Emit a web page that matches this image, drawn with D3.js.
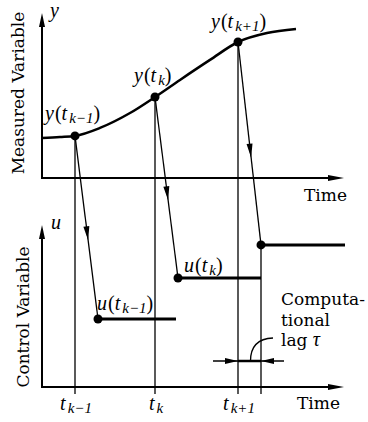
<!DOCTYPE html>
<meta charset="utf-8">
<style>
body { margin: 0; background: #fff; }
</style>
<body>
<script src="https://d3js.org/d3.v7.min.js"></script>
<script>

// sampling instants t_{k-1}, t_k, t_{k+1} (arbitrary time units) and computational lag
var sampleTimes = [3.3, 11.3, 19.6];
var sampleSubs = ["k\u22121", "k", "k+1"];
var lag = 2.3;

// measured variable y(t)
var curveT = [0, 1.8, 3.3, 5.8, 8.8, 11.3, 13.8, 16.8, 19.6, 22.5, 25.4];
var curveY = [2.5, 2.56, 2.63, 3.13, 4.06, 5.06, 6.13, 7.38, 8.5, 9.06, 9.31];
var ySamples = [2.63, 5.06, 8.5];

// control variable u, held from t_i + lag to holdEnd
var uValues = [4.25, 6.81, 8.88];
var holdEnd = [13.4, 21.9, 30.3];

var width = 368, height = 422;
var mathFont = "Liberation Serif";

var svg = d3.select("body").append("svg")
    .attr("width", width)
    .attr("height", height)
    .attr("font-family", "DejaVu Serif");

var x = d3.scaleLinear().domain([0, 30]).range([42, 342]);
var yTop = d3.scaleLinear().domain([0, 10]).range([178, 18]);
var yBot = d3.scaleLinear().domain([0, 10]).range([387, 227]);

function arrowHead(tip, from, len, hw) {
  var dx = tip[0] - from[0], dy = tip[1] - from[1];
  var d = Math.sqrt(dx * dx + dy * dy);
  var ux = dx / d, uy = dy / d;
  var bx = tip[0] - ux * len, by = tip[1] - uy * len;
  return "M" + tip[0] + "," + tip[1] +
    "L" + (bx - uy * hw) + "," + (by + ux * hw) +
    "L" + (bx + uy * hw) + "," + (by - ux * hw) + "Z";
}

// axes
function axes(ys, top) {
  var x0 = x(0), y0 = ys(0);
  svg.append("line").attr("x1", x0).attr("y1", y0).attr("x2", x0).attr("y2", top + 6)
      .attr("stroke", "#000").attr("stroke-width", 2);
  svg.append("line").attr("x1", x0 - 1).attr("y1", y0).attr("x2", x(30) - 6).attr("y2", y0)
      .attr("stroke", "#000").attr("stroke-width", 2);
  svg.append("path").attr("d", arrowHead([x0, top], [x0, y0], 14, 3));
  svg.append("path").attr("d", arrowHead([x(30) + 2, y0], [x0, y0], 16, 3));
}
axes(yTop, 13);
axes(yBot, 225);

// vertical sample lines
svg.selectAll(".vline").data(sampleTimes).enter().append("line")
    .attr("x1", function(d) { return x(d); })
    .attr("x2", function(d) { return x(d); })
    .attr("y1", function(d, i) { return yTop(ySamples[i]); })
    .attr("y2", yBot(0) + 7)
    .attr("stroke", "#000").attr("stroke-width", 1.3);

// vertical line at t_{k+1} + lag
svg.append("line")
    .attr("x1", x(sampleTimes[2] + lag)).attr("x2", x(sampleTimes[2] + lag))
    .attr("y1", yBot(uValues[2])).attr("y2", yBot(0) + 7)
    .attr("stroke", "#000").attr("stroke-width", 1.3);

// measured curve
var line = d3.line().x(function(d) { return x(d[0]); }).y(function(d) { return yTop(d[1]); })
    .curve(d3.curveMonotoneX);
svg.append("path").datum(d3.zip(curveT, curveY))
    .attr("d", line).attr("fill", "none").attr("stroke", "#000").attr("stroke-width", 2.5);

// held control values
svg.selectAll(".hold").data(uValues).enter().append("line")
    .attr("x1", function(d, i) { return x(sampleTimes[i] + lag); })
    .attr("x2", function(d, i) { return x(holdEnd[i]); })
    .attr("y1", function(d) { return yBot(d); })
    .attr("y2", function(d) { return yBot(d); })
    .attr("stroke", "#000").attr("stroke-width", 3);

// slanted transfer arrows
sampleTimes.forEach(function(t, i) {
  var p0 = [x(t), yTop(ySamples[i])], p1 = [x(t + lag), yBot(uValues[i])];
  svg.append("line").attr("x1", p0[0]).attr("y1", p0[1]).attr("x2", p1[0]).attr("y2", p1[1])
      .attr("stroke", "#000").attr("stroke-width", 1.3);
  var f = 0.57;
  var tip = [p0[0] + (p1[0] - p0[0]) * f, p0[1] + (p1[1] - p0[1]) * f];
  svg.append("path").attr("d", arrowHead(tip, p0, 14, 3));
});

// dots
svg.selectAll(".ydot").data(ySamples).enter().append("circle")
    .attr("cx", function(d, i) { return x(sampleTimes[i]); })
    .attr("cy", function(d) { return yTop(d); })
    .attr("r", 4.5);
svg.selectAll(".udot").data(uValues).enter().append("circle")
    .attr("cx", function(d, i) { return x(sampleTimes[i] + lag); })
    .attr("cy", function(d) { return yBot(d); })
    .attr("r", 4.5);

// math labels
function it(sel, str) {
  return sel.append("tspan").attr("font-family", mathFont).attr("font-style", "italic").text(str);
}
function mathLabel(px, py, fn, sub, anchor) {
  var t = svg.append("text").attr("x", px).attr("y", py).attr("font-size", 20)
      .attr("font-family", mathFont).attr("text-anchor", anchor || "start");
  if (fn) {
    it(t, fn);
    t.append("tspan").attr("dx", 1).text("(");
  }
  it(t, "t");
  it(t, sub).attr("font-size", 15).attr("dx", 2).attr("dy", 3);
  if (fn) t.append("tspan").attr("dy", -3).text(")");
  return t;
}
var yLabelPos = [[45, 120], [134, 82], [211, 28]];
var uLabelPos = [[97, 310], [184, 272]];
sampleSubs.forEach(function(s, i) {
  mathLabel(yLabelPos[i][0], yLabelPos[i][1], "y", s);
  if (i < 2) mathLabel(uLabelPos[i][0], uLabelPos[i][1], "u", s);
  mathLabel(x(sampleTimes[i]) + 1, 410, null, s, "middle");
});

it(svg.append("text").attr("x", 50).attr("y", 17).attr("font-size", 20), "y");
it(svg.append("text").attr("x", 51).attr("y", 229).attr("font-size", 20), "u");

svg.append("text").attr("x", 304).attr("y", 201).attr("font-size", 17).text("Time");
svg.append("text").attr("x", 297).attr("y", 409).attr("font-size", 17).text("Time");

svg.append("text").attr("transform", "translate(24,93) rotate(-90)")
    .attr("text-anchor", "middle").attr("font-size", 17).text("Measured Variable");
svg.append("text").attr("transform", "translate(29,317) rotate(-90)")
    .attr("text-anchor", "middle").attr("font-size", 17).text("Control Variable");

var note = svg.append("text").attr("x", 281).attr("font-size", 17);
note.append("tspan").attr("x", 281).attr("y", 305).text("Computa-");
note.append("tspan").attr("x", 281).attr("y", 326).text("tional");
note.append("tspan").attr("x", 281).attr("y", 346).text("lag ");
it(note, "\u03c4").attr("font-size", 20);

// lag dimension
var tA = x(sampleTimes[2]), tB = x(sampleTimes[2] + lag), ly = 361;
svg.append("line").attr("x1", tA - 25).attr("x2", tB + 23).attr("y1", ly).attr("y2", ly)
    .attr("stroke", "#000").attr("stroke-width", 1.3);
svg.append("line").attr("x1", tA).attr("x2", tB).attr("y1", ly).attr("y2", ly)
    .attr("stroke", "#000").attr("stroke-width", 2.5);
svg.append("path").attr("d", arrowHead([tA, ly], [tA - 25, ly], 13, 3));
svg.append("path").attr("d", arrowHead([tB, ly], [tB + 23, ly], 13, 3));
svg.append("path")
    .attr("d", "M" + ((tA + tB) / 2 + 1) + "," + ly + "Q" + ((tA + tB) / 2 + 1) + "," + (ly - 22) + " " + (tB + 12) + "," + (ly - 23))
    .attr("fill", "none").attr("stroke", "#000").attr("stroke-width", 1.3);

</script>
